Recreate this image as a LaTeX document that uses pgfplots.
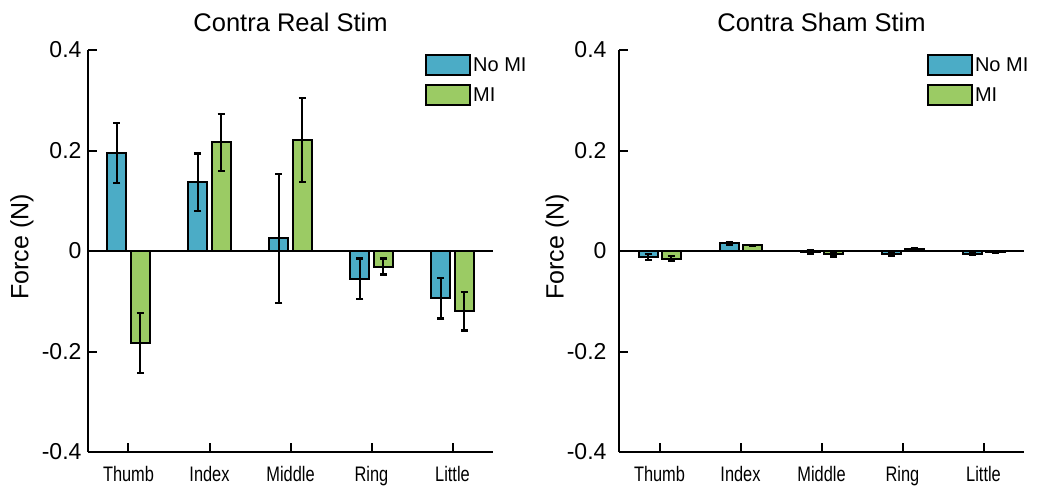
\documentclass[border=0pt]{standalone}
\usepackage{pgfplots}
\pgfplotsset{compat=1.18}
\usepackage{fontspec}
\setmainfont{Liberation Sans}
\newfontfamily\narrowfont[FakeStretch=0.78]{Liberation Sans}
\definecolor{blueC}{HTML}{4BACC6}
\definecolor{greenC}{HTML}{9BCB64}
\pgfplotsset{
  myaxis/.style={
    scale only axis, width=405pt, height=402pt, anchor=south west,
    xmin=-0.5, xmax=4.5, ymin=-0.4, ymax=0.4,
    axis x line*=bottom, axis y line*=left,
    axis line style={line width=2pt},
    xtick={0,1,2,3,4}, xticklabels={Thumb,Index,Middle,Ring,Little},
    ytick={-0.4,-0.2,0,0.2,0.4}, yticklabels={-0.4,-0.2,0,0.2,0.4},
    tick align=inside, major tick length=9pt,
    tick style={line width=2pt, black},
    xticklabel style={font=\narrowfont\fontsize{21}{24}\selectfont, yshift=-11pt},
    ylabel={Force (N)},
    ylabel style={font=\fontsize{25}{28}\selectfont, anchor=center},
    title style={font=\fontsize{25.5}{29}\selectfont, at={(0.5,1)}, anchor=base, yshift=13pt},
    legend image code/.code={\draw[##1] (0pt,-10pt) rectangle (44pt,10pt);},
    legend style={draw=none, fill=none, inner sep=0pt, anchor=north west,
      font=\fontsize{20}{23}\selectfont, row sep=8pt,
      nodes={inner sep=2pt}, cells={anchor=west}},
  },
  barA/.style={ybar, bar width=19pt, bar shift=0pt, fill=blueC, draw=black, line width=2pt,
    error bars/.cd, y dir=both, y explicit,
    error bar style={line width=2.4pt, black},
    error mark options={rotate=90, mark size=3.5pt, line width=2.4pt, black}},
  barB/.style={ybar, bar width=19pt, bar shift=0pt, fill=greenC, draw=black, line width=2pt,
    error bars/.cd, y dir=both, y explicit,
    error bar style={line width=2.4pt, black},
    error mark options={rotate=90, mark size=3.5pt, line width=2.4pt, black}},
}
\begin{document}
\begin{tikzpicture}
\path[use as bounding box] (0,0) rectangle (1037pt,488pt);
\begin{axis}[myaxis, at={(88pt,36pt)},
  title={Contra Real Stim},
  yticklabel style={font=\fontsize{23}{26}\selectfont, xshift=-3pt},
  ylabel style={at={(axis description cs:-0.163,0.51)}},
  legend style={at={(axis description cs:0.832,0.99)}}]
\addlegendimage{fill=blueC, draw=black, line width=2pt}
\addlegendentry{No MI}
\addlegendimage{fill=greenC, draw=black, line width=2pt}
\addlegendentry{MI}
\addplot[black, line width=2pt, forget plot] coordinates {(-0.5,0) (4.5,0)};
\addplot[forget plot, barA] coordinates {
  (-0.142,0.195) +- (0,0.060)
  (0.858,0.137) +- (0,0.057)
  (1.858,0.025) +- (0,0.128)
  (2.858,-0.055) +- (0,0.040)
  (3.858,-0.094) +- (0,0.040)
};
\addplot[forget plot, barB] coordinates {
  (0.142,-0.183) +- (0,0.060)
  (1.142,0.216) +- (0,0.057)
  (2.142,0.221) +- (0,0.084)
  (3.142,-0.031) +- (0,0.016)
  (4.142,-0.120) +- (0,0.038)
};
\end{axis}
\begin{axis}[myaxis, at={(619pt,36pt)},
  title={Contra Sham Stim},
  yticklabel style={font=\fontsize{23}{26}\selectfont, xshift=-9pt},
  ylabel style={at={(axis description cs:-0.153,0.51)}},
  legend style={at={(axis description cs:0.76,0.99)}}]
\addlegendimage{fill=blueC, draw=black, line width=2pt}
\addlegendentry{No MI}
\addlegendimage{fill=greenC, draw=black, line width=2pt}
\addlegendentry{MI}
\addplot[black, line width=2pt, forget plot] coordinates {(-0.5,0) (4.5,0)};
\addplot[forget plot, barA] coordinates {
  (-0.142,-0.012) +- (0,0.006)
  (0.858,0.015) +- (0,0.002)
  (1.858,-0.002) +- (0,0.004)
  (2.858,-0.006) +- (0,0.003)
  (3.858,-0.005) +- (0,0.002)
};
\addplot[forget plot, barB] coordinates {
  (0.142,-0.015) +- (0,0.005)
  (1.142,0.011) +- (0,0.001)
  (2.142,-0.006) +- (0,0.005)
  (3.142,0.003) +- (0,0.002)
  (4.142,-0.002) +- (0,0.001)
};
\end{axis}
\end{tikzpicture}
\end{document}
